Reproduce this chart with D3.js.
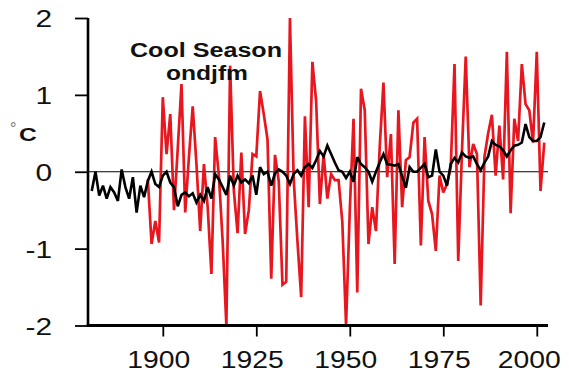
<!DOCTYPE html>
<html>
<head>
<meta charset="utf-8">
<script src="https://cdn.jsdelivr.net/npm/d3@7"></script>
<style>
  html, body { margin: 0; padding: 0; background: #fff; }
  svg { display: block; font-family: "Liberation Sans", Arial, Helvetica, sans-serif; }
</style>
</head>
<body>
<svg id="chart" width="569" height="374"></svg>
<script>
// Cool season (Oct-Mar) temperature anomalies, degrees C
const smoothStart = 1881;
const smoothValues = [
  -0.25, 0.0, -0.31, -0.18, -0.35, -0.2, -0.27, -0.38, 0.03, -0.2,
  -0.35, -0.07, -0.53, -0.18, -0.33, -0.12, 0.0, -0.16, -0.2, -0.05,
  0.0, -0.14, -0.2, -0.45, -0.3, -0.27, -0.32, -0.28, -0.4, -0.3,
  -0.38, -0.2, -0.35, -0.03, -0.1, -0.2, -0.3, -0.05, -0.18, -0.05,
  -0.14, -0.1, -0.15, -0.05, -0.3, 0.06, -0.03, 0.0, -0.18, -0.02,
  0.03, 0.0, -0.05, -0.16, -0.03, 0.02, -0.05, 0.06, 0.1, 0.05,
  0.15, 0.27, 0.2, 0.34, 0.23, 0.12, 0.02, 0.0, -0.08, 0.0,
  -0.13, 0.19, 0.1, 0.06, 0.0, -0.13, 0.0, 0.12, 0.23, 0.1,
  0.09, 0.08, 0.1, -0.06, -0.21, 0.06, 0.0, 0.0, 0.05, 0.1,
  -0.07, -0.05, 0.29, 0.0, -0.05, -0.18, 0.1, 0.18, 0.12, 0.25,
  0.2, 0.18, 0.2, 0.1, 0.02, 0.12, 0.2, 0.4, 0.35, 0.33,
  0.28, 0.2, 0.28, 0.34, 0.35, 0.38, 0.62, 0.45, 0.4, 0.4,
  0.45, 0.64
];

const localStart = 1896;
const localValues = [
  -0.1, -0.94, -0.64, -0.92, 0.97, 0.23, 0.75, -0.5, 0.3, 1.14,
  -0.53, 0.2, 0.85, 0.1, -0.77, 0.1, -0.46, -1.33, 0.45, -0.05,
  -0.9, -2.0, 1.38, -0.25, -0.8, 0.25, -0.81, -0.5, 0.23, 0.2,
  1.05, 0.75, 0.42, -1.39, 0.22, -0.12, -1.47, -1.43, 2.0, -0.1,
  -0.9, -1.63, 0.72, -0.46, 1.43, 0.92, -0.42, 0.23, -0.35, -0.03,
  -0.11, -0.11, -0.65, -2.0, -0.5, 0.69, -1.57, 1.08, 0.8, -0.94,
  -0.46, -0.77, 0.32, 1.16, -0.07, 0.49, -1.2, 0.8, -0.46, 0.15,
  0.19, 0.64, 0.69, -0.96, 0.45, -0.38, -0.55, -1.03, -0.05, -0.27,
  -0.16, 0.06, 1.4, -1.16, 0.27, 1.5, 0.06, 0.36, 0.23, -1.74,
  0.19, 0.5, 0.74, -0.05, 0.6, -0.1, 1.56, -0.54, 0.69, 0.4,
  1.4, 0.88, 0.8, 0.38, 1.56, -0.25, 0.38
];

const xTicks = [1900, 1925, 1950, 1975, 2000];
const yTicks = [-2, -1, 0, 1, 2];
const titleLines = ["Cool Season", "ondjfm"];

const smoothSeries = smoothValues.map((v, i) => ({ year: smoothStart + i, value: v }));
const localSeries = localValues.map((v, i) => ({ year: localStart + i, value: v }));

const svg = d3.select("#chart");

const x = d3.scaleLinear().domain([1880, 2003]).range([88, 548]);
const y = d3.scaleLinear().domain([-2, 2]).range([325.5, 18]);

// tick labels use a plain hyphen for negatives
const fmt = d => String(d);

svg.append("defs").append("clipPath").attr("id", "plot-clip")
  .append("rect")
  .attr("x", x(1880)).attr("y", y(2) - 1.5)
  .attr("width", x(2003) - x(1880)).attr("height", y(-2) - y(2) + 3);

// zero reference line
svg.append("line")
  .attr("x1", x(1880)).attr("x2", x(2003))
  .attr("y1", y(0)).attr("y2", y(0))
  .attr("stroke", "#000").attr("stroke-width", 1);

const line = d3.line().x(d => x(d.year)).y(d => y(d.value));

const plot = svg.append("g").attr("clip-path", "url(#plot-clip)");

plot.append("path")
  .datum(localSeries)
  .attr("d", line)
  .attr("fill", "none")
  .attr("stroke", "#e8161e")
  .attr("stroke-width", 2.7)
  .attr("stroke-linejoin", "miter")
  .attr("stroke-miterlimit", 3);

plot.append("path")
  .datum(smoothSeries)
  .attr("d", line)
  .attr("fill", "none")
  .attr("stroke", "#000")
  .attr("stroke-width", 2.6)
  .attr("stroke-linejoin", "miter")
  .attr("stroke-miterlimit", 3);

// left axis
const yAxis = svg.append("g")
  .attr("transform", `translate(${x(1880)},0)`)
  .call(d3.axisLeft(y).tickValues(yTicks).tickSize(13).tickFormat(fmt));
yAxis.select(".domain").attr("stroke", "#000").attr("stroke-width", 2.6)
  .attr("d", `M0,${y(2)}V${y(-2)}`);
yAxis.selectAll(".tick line").attr("stroke", "#000").attr("stroke-width", 1.8);
yAxis.selectAll(".tick text")
  .attr("x", null).attr("dy", null)
  .attr("text-anchor", "end")
  .attr("font-size", 23)
  .attr("fill", "#111")
  .attr("transform", "translate(-36,8.5) scale(1.3,1)");

// bottom axis
const xAxis = svg.append("g")
  .attr("transform", `translate(0,${y(-2)})`)
  .call(d3.axisBottom(x).tickValues(xTicks).tickSize(11).tickFormat(fmt));
xAxis.select(".domain").attr("stroke", "#000").attr("stroke-width", 3)
  .attr("d", `M${x(1880) - 1.3},0H${x(2003)}`);
xAxis.selectAll(".tick line").attr("stroke", "#000").attr("stroke-width", 1.8);
xAxis.selectAll(".tick text")
  .attr("y", null).attr("dy", null)
  .attr("text-anchor", "middle")
  .attr("font-size", 23)
  .attr("fill", "#111")
  .attr("transform", (d, i) => `translate(${i === 4 ? -8 : -4.5},42.5) scale(1.23,1)`);

// unit label
svg.append("text")
  .attr("x", 10).attr("y", 134)
  .attr("font-size", 16).attr("fill", "#777")
  .text("°");
svg.append("text")
  .attr("x", 0).attr("y", 141)
  .attr("font-size", 19).attr("font-weight", "bold").attr("fill", "#111")
  .attr("transform", "translate(19,0) scale(1.3,1)")
  .text("C");

// title
svg.append("text")
  .attr("x", 206).attr("y", 57)
  .attr("text-anchor", "middle")
  .attr("font-size", 20).attr("font-weight", "bold").attr("fill", "#111")
  .attr("textLength", 152).attr("lengthAdjust", "spacingAndGlyphs")
  .text(titleLines[0]);
svg.append("text")
  .attr("x", 207).attr("y", 79.5)
  .attr("text-anchor", "middle")
  .attr("font-size", 20).attr("font-weight", "bold").attr("fill", "#111")
  .attr("textLength", 82).attr("lengthAdjust", "spacingAndGlyphs")
  .text(titleLines[1]);
</script>
</body>
</html>
